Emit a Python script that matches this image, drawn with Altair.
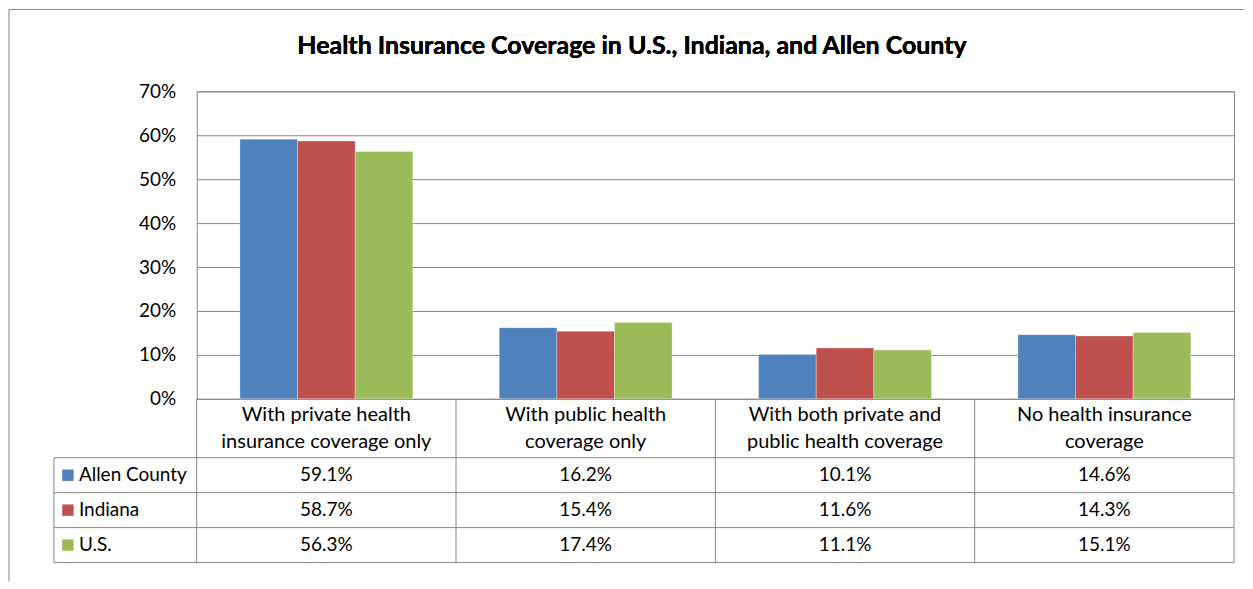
import altair as alt
import pandas as pd

# ---------------- data ----------------
categories = [
    "With private health insurance coverage only",
    "With public health coverage only",
    "With both private and public health coverage",
    "No health insurance coverage",
]
category_labels = [
    "With private health\ninsurance coverage only",
    "With public health\ncoverage only",
    "With both private and\npublic health coverage",
    "No health insurance\ncoverage",
]
series = ["Allen County", "Indiana", "U.S."]
allen_county = [0.591, 0.162, 0.101, 0.146]
indiana = [0.587, 0.154, 0.116, 0.143]
us = [0.563, 0.174, 0.111, 0.151]
series_colors = ["#4F81BD", "#C0504D", "#9BBB59"]
y_ticks = [0.0, 0.1, 0.2, 0.3, 0.4, 0.5, 0.6, 0.7]
chart_title = "Health Insurance Coverage in U.S., Indiana, and Allen County"

values_by_series = {"Allen County": allen_county, "Indiana": indiana, "U.S.": us}
rows = []
for s in series:
    for c, v in zip(categories, values_by_series[s]):
        rows.append({"category": c, "series": s, "value": v})
df = pd.DataFrame(rows)
cat_df = pd.DataFrame({"category": categories, "label": category_labels})
series_df = pd.DataFrame({"series": series})

# ---------------- layout ----------------
W, H = 1039, 308          # plot area
HEADER_H, ROW_H = 59, 35  # data table
LEFT_COL = 143            # legend column of the table
T_ROWS = H + HEADER_H
T_BOTTOM = T_ROWS + 3 * ROW_H
GRID = "#868686"
FONT = "Lato"
FS = 19
HEADER_FS = 20
HEADER_LH = 27

xscale = alt.Scale(domain=categories, paddingInner=0, paddingOuter=0)
yscale = alt.Scale(domain=[0, 0.7])
row_scale = alt.Scale(domain=series, range=[T_ROWS, T_BOTTOM], paddingInner=0, paddingOuter=0)
color_scale = alt.Scale(domain=series, range=series_colors)

base = alt.Chart(df)

bars = base.mark_bar(stroke="white", strokeWidth=0.5, strokeOpacity=0.6).encode(
    x=alt.X("category:N", scale=xscale, sort=categories, axis=None),
    xOffset=alt.XOffset("series:N", sort=series,
                        scale=alt.Scale(domain=series, paddingInner=0, paddingOuter=0.75)),
    y=alt.Y("value:Q", scale=yscale,
            axis=alt.Axis(values=y_ticks, format=".0%", grid=True, gridColor=GRID,
                          gridWidth=1, domain=False, ticks=False, tickSize=0,
                          labelPadding=21, labelFont=FONT, labelFontSize=FS,
                          labelColor="black", title=None)),
    color=alt.Color("series:N", scale=color_scale, legend=None),
)

# table lines (decoration)
lines = pd.DataFrame([
    {"x": -LEFT_COL, "x2": W, "y": T_ROWS + i * ROW_H, "y2": T_ROWS + i * ROW_H} for i in range(4)
] + [
    {"x": -LEFT_COL, "x2": -LEFT_COL, "y": T_ROWS, "y2": T_BOTTOM},
    {"x": W, "x2": W, "y": H, "y2": T_BOTTOM},
    # outer chart-area frame (left and top edges)
    {"x": -188, "x2": -188, "y": -82, "y2": 491},
    {"x": -188, "x2": W + 10, "y": -82, "y2": -82},
])
table_lines = alt.Chart(lines).mark_rule(color=GRID, strokeWidth=1).encode(
    x=alt.X("x:Q", scale=None), x2="x2:Q",
    y=alt.Y("y:Q", scale=None), y2="y2:Q",
)

dividers = alt.Chart(cat_df).mark_rule(color=GRID, strokeWidth=1).encode(
    x=alt.X("category:N", scale=xscale, sort=categories, bandPosition=0, axis=None),
    y=alt.value(H), y2=alt.value(T_BOTTOM),
)

headers = alt.Chart(cat_df).mark_text(
    font=FONT, fontSize=HEADER_FS, color="black", align="center", baseline="middle",
    lineBreak="\n", lineHeight=HEADER_LH,
).encode(
    x=alt.X("category:N", scale=xscale, sort=categories, axis=None),
    y=alt.value(H + HEADER_H / 2 - HEADER_LH / 2),
    text="label:N",
)

cells = base.mark_text(font=FONT, fontSize=FS, color="black", align="center",
                       baseline="middle").encode(
    x=alt.X("category:N", scale=xscale, sort=categories, axis=None),
    y=alt.Y("series:N", scale=row_scale, sort=series, axis=None),
    text=alt.Text("value:Q", format=".1%"),
)

keys = alt.Chart(series_df).mark_square(size=130, opacity=1).encode(
    x=alt.value(-LEFT_COL + 14),
    y=alt.Y("series:N", scale=row_scale, sort=series, axis=None),
    color=alt.Color("series:N", scale=color_scale, legend=None),
)

key_labels = alt.Chart(series_df).mark_text(font=FONT, fontSize=FS, color="black",
                                            align="left", baseline="middle").encode(
    x=alt.value(-LEFT_COL + 25),
    y=alt.Y("series:N", scale=row_scale, sort=series, axis=None),
    text="series:N",
)

title = alt.Chart(series_df).mark_text(font=FONT, fontSize=25, fontWeight="bold",
                                       color="black", align="center",
                                       baseline="middle").encode(
    x=alt.value(436), y=alt.value(-45), text=alt.value(chart_title),
)

chart = alt.layer(
    bars, table_lines, dividers, headers, cells, keys, key_labels, title
).resolve_scale(y="independent").properties(
    width=W, height=H, padding=0, background="white"
).configure_view(stroke=GRID, strokeWidth=1)

chart.save("out.html", embed_options={"renderer": "svg", "actions": False})
